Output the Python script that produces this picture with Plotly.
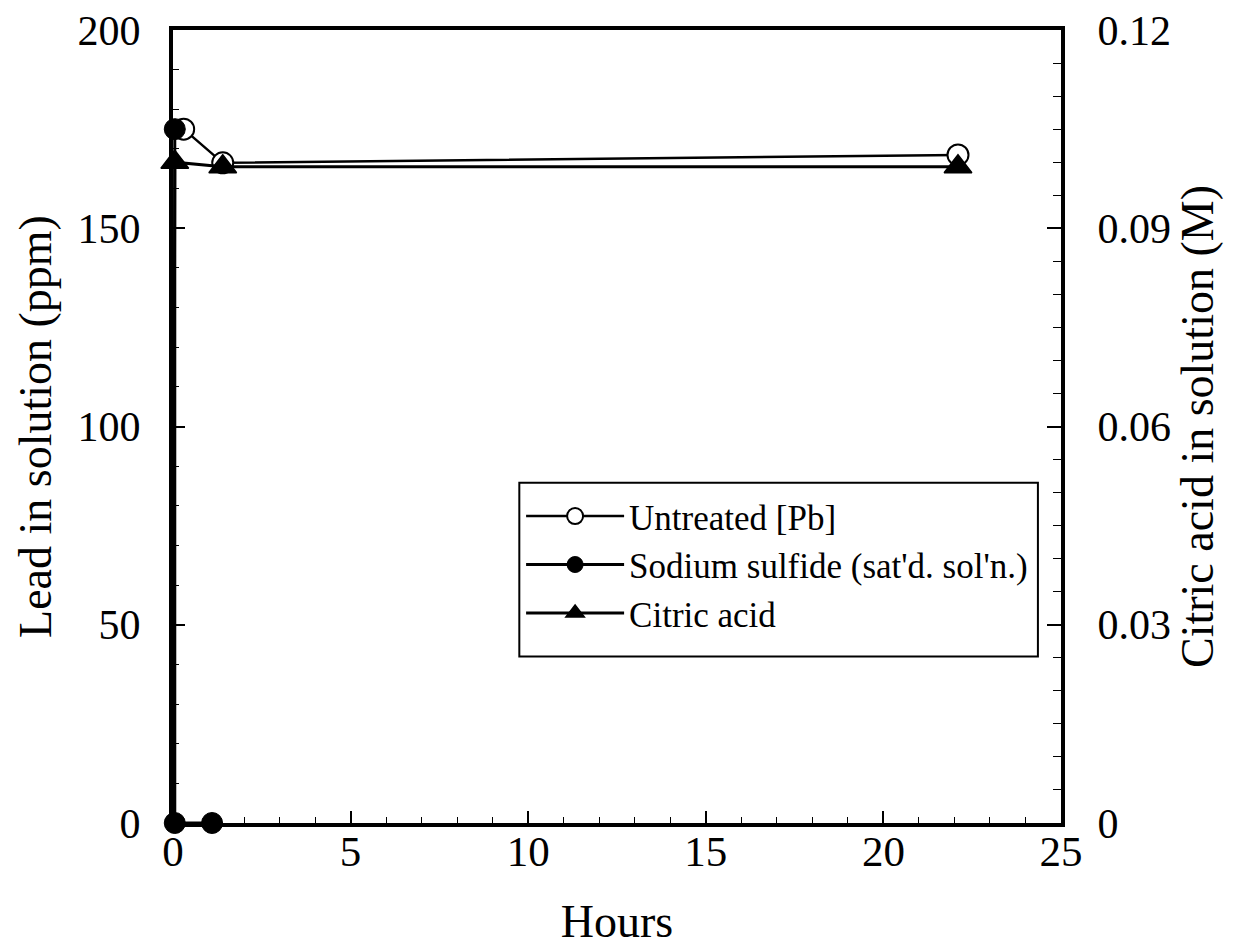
import plotly.graph_objects as go

# Data
untreated_hours = [0.3, 1.4, 22.1]
untreated_pb = [175, 166.5, 168.5]

sulfide_hours = [0.05, 0.05, 1.1]
sulfide_pb = [175, 0, 0]

citric_hours = [0.0, 0.05, 1.4, 22.1]
citric_molar = [0.0, 0.100, 0.0993, 0.0993]

x_ticks = [0, 5, 10, 15, 20, 25]
y_ticks = [0, 50, 100, 150, 200]
y2_ticks = [0, 0.03, 0.06, 0.09, 0.12]

FONT = "Liberation Serif"

fig = go.Figure()

fig.add_trace(go.Scatter(
    x=untreated_hours, y=untreated_pb, name="Untreated [Pb]",
    mode="lines+markers", cliponaxis=False,
    line=dict(color="black", width=2.5),
    marker=dict(symbol="circle", size=21, color="white",
                line=dict(color="black", width=2)),
))
fig.add_trace(go.Scatter(
    x=sulfide_hours, y=sulfide_pb, name="Sodium sulfide (sat'd. sol'n.)",
    mode="lines+markers", cliponaxis=False,
    line=dict(color="black", width=3),
    marker=dict(symbol="circle", size=21, color="black",
                line=dict(color="black", width=1)),
))
fig.add_trace(go.Scatter(
    x=citric_hours, y=citric_molar, name="Citric acid", yaxis="y2",
    mode="lines+markers", cliponaxis=False,
    line=dict(color="black", width=3),
    marker=dict(symbol="triangle-up", size=[0, 24, 24, 24], color="#000000",
                opacity=1, line=dict(color="#000000", width=1.5)),
))

# legend frame
fig.add_shape(type="rect", xref="paper", yref="paper",
              x0=0.39, x1=0.974, y0=0.210, y1=0.429,
              line=dict(color="black", width=2), fillcolor="white", layer="below")

fig.update_layout(
    width=1249, height=945,
    margin=dict(l=165, r=196, t=22, b=130),
    paper_bgcolor="white", plot_bgcolor="white",
    font=dict(family=FONT, size=42, color="black"),
    showlegend=True,
    legend=dict(
        x=0.392, y=0.424, xanchor="left", yanchor="top",
        bgcolor="rgba(0,0,0,0)", borderwidth=0,
        font=dict(family=FONT, size=35, color="black"),
        itemwidth=98,
    ),
    xaxis=dict(
        range=[0, 25], tickvals=x_ticks, ticks="inside", ticklen=12, tickwidth=1.5,
        tickcolor="black", automargin=False, ticklabeloverflow="allow",
        minor=dict(dtick=1, ticks="inside", ticklen=6, tickcolor="black", tickwidth=1),
        showline=True, linecolor="black", linewidth=4, mirror=True,
        showgrid=False, zeroline=False,
        title=dict(text="Hours", font=dict(size=46), standoff=32),
        tickfont=dict(size=43), ticklabelstandoff=-13,
    ),
    yaxis=dict(
        range=[0, 200], tickvals=y_ticks, ticks="inside", ticklen=12, tickwidth=1.5,
        tickcolor="black", automargin=False, ticklabeloverflow="allow",
        minor=dict(dtick=10, ticks="inside", ticklen=6, tickcolor="black", tickwidth=1),
        showline=True, linecolor="black", linewidth=4, mirror=True,
        showgrid=False, zeroline=False,
        title=dict(text="Lead in solution (ppm)", font=dict(size=46), standoff=12),
        tickfont=dict(size=42), ticklabelstandoff=20,
    ),
    yaxis2=dict(
        range=[0, 0.12], tickvals=y2_ticks, overlaying="y", side="right",
        ticks="inside", ticklen=14, tickwidth=1.5, tickcolor="black", automargin=False,
        ticklabeloverflow="allow",
        minor=dict(dtick=0.005, ticks="inside", ticklen=8, tickcolor="black", tickwidth=1),
        showline=True, linecolor="black", linewidth=4,
        showgrid=False, zeroline=False,
        title=dict(text="Citric acid in solution (M)", font=dict(size=46), standoff=12),
        tickfont=dict(size=42), ticklabelstandoff=24,
    ),
)

fig.write_html("out.html")
